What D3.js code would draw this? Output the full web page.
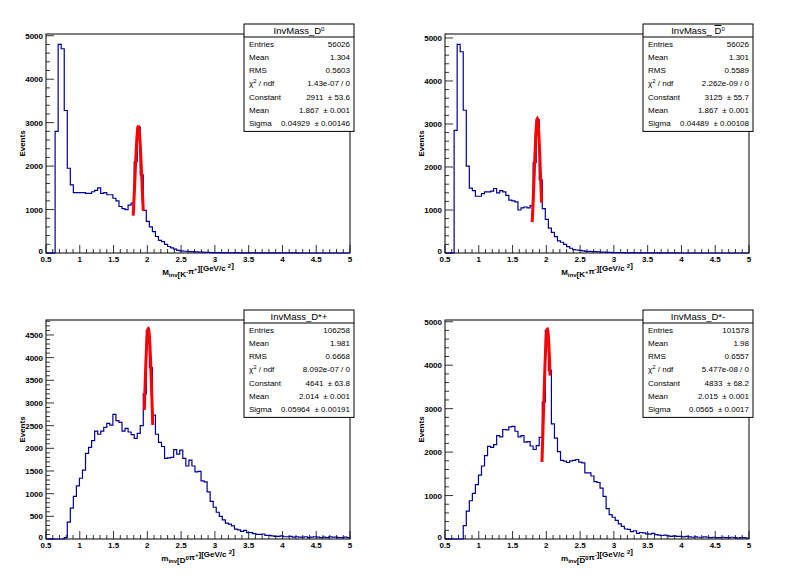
<!DOCTYPE html>
<html lang="en">
<head>
<meta charset="UTF-8" />
<title>InvMass histograms</title>
<script src="https://d3js.org/d3.v7.min.js"></script>
<style>
  body { margin: 0; background: #fff; }
  svg { display: block; font-family: "Liberation Sans", Arial, sans-serif; }
  text { white-space: pre; }
  .tick-label { font-size: 8px; font-weight: bold; }
  .stat { font-size: 8px; }
</style>
</head>
<body>
<svg id="c" width="796" height="574"></svg>
<script>
// 100 bins from 0.5 to 5.0 GeV/c^2
const xMin = 0.5, xMax = 5.0, nBins = 100;

const binsD0 = [0,0,0,2800,4800,4700,3280,1950,1570,1390, 1390,1390,1390,1370,1370,1410,1440,1500,1370,1390,
  1340,1340,1260,1200,1070,1020,1000,1100,1150,2100, 2900,1800,980,730,600,490,380,290,260,200,
  150,120,90,60,50,40,40,30,30,25, 20,20,15,15,10,10,10,10,5,10,
  5,5,10,5,5,5,5,5,5,5, 5,5,5,5,5,5,5,5,5,5,
  5,5,5,0,0,0,0,0,0,0, 0,0,0,0,0,0,0,0,0,0];
const binsD0bar = [0,0,0,2850,4850,4680,3320,2020,1510,1450, 1320,1320,1380,1420,1420,1440,1500,1400,1450,1420,
  1340,1230,1210,1190,1000,1050,1070,1050,1100,2100, 3100,1700,1030,780,580,480,380,280,250,200,
  150,110,80,70,60,50,40,40,30,30, 25,20,20,15,15,10,10,10,10,5,
  5,10,5,5,5,5,5,5,5,5, 5,5,5,5,5,5,5,0,0,0,
  0,0,0,0,0,0,0,0,0,0, 0,0,0,0,0,0,0,0,0,0];
const binsDstarPlus = [0,0,0,0,0,0,30,370,680,940, 1170,1340,1520,1890,2020,2170,2380,2310,2380,2460,
  2550,2510,2750,2610,2570,2380,2440,2360,2300,2220, 2330,2500,3200,4600,3780,2730,2310,2130,2040,1780,
  1790,1800,1970,1870,1960,1780,1610,1740,1610,1480, 1490,1280,1260,1040,830,700,590,500,420,350,
  330,290,220,200,170,190,140,140,120,100, 100,110,80,80,70,60,60,70,50,50,
  60,40,50,40,40,50,30,40,50,40, 30,40,30,50,40,40,30,30,40,30];
const binsDstarMinus = [0,0,0,0,0,0,310,640,880,1050, 1250,1470,1680,1920,2130,2110,2170,2380,2350,2520,
  2510,2580,2590,2480,2350,2380,2230,2240,2140,2060, 2150,2340,3150,4800,3880,2650,2320,2010,1810,1790,
  1760,1800,1810,1830,1770,1750,1520,1520,1450,1320, 1300,1170,980,700,560,500,430,350,290,230,
  220,170,190,130,150,140,120,110,130,100, 90,80,90,70,60,70,60,60,50,60,
  50,40,50,40,40,50,40,30,40,30, 30,40,30,30,40,30,20,30,30,20];

// gaussian fits: [constant, mean, sigma], fit ranges
const fitD0 = [2911, 1.867, 0.04929], rangeD0 = [1.79, 1.94];
const fitD0bar = [3125, 1.867, 0.04489], rangeD0bar = [1.79, 1.93];
const fitDstarPlus = [4641, 2.014, 0.05964], rangeDstarPlus = [1.955, 2.08];
const fitDstarMinus = [4833, 2.015, 0.0565], rangeDstarMinus = [1.935, 2.055];

// stats box rows
const statsD0 = [["Entries","56026"],["Mean","1.304"],["RMS","0.5603"],["chi","1.43e-07 / 0"],["Constant","2911  \u00b1 53.6"],["Mean","1.867  \u00b1 0.001"],["Sigma","0.04929  \u00b1 0.00146"]];
const statsD0bar = [["Entries","56026"],["Mean","1.301"],["RMS","0.5589"],["chi","2.262e-09 / 0"],["Constant","3125  \u00b1 55.7"],["Mean","1.867  \u00b1 0.001"],["Sigma","0.04489  \u00b1 0.00108"]];
const statsDstarPlus = [["Entries","106258"],["Mean","1.981"],["RMS","0.6668"],["chi","8.092e-07 / 0"],["Constant","4641  \u00b1 63.8"],["Mean","2.014  \u00b1 0.001"],["Sigma","0.05964  \u00b1 0.00191"]];
const statsDstarMinus = [["Entries","101578"],["Mean","1.98"],["RMS","0.6557"],["chi","5.477e-08 / 0"],["Constant","4833  \u00b1 68.2"],["Mean","2.015  \u00b1 0.001"],["Sigma","0.0565  \u00b1 0.0017"]];

const xTicks = [0.5,1,1.5,2,2.5,3,3.5,4,4.5,5];

const svg = d3.select("#c");

function drawPanel(p) {
  const g = svg.append("g");
  const x = d3.scaleLinear().domain([xMin, xMax]).range([p.x0, p.x1]);
  const yMaxVal = d3.max(p.bins) * 1.05;
  const y = d3.scaleLinear().domain([0, yMaxVal]).range([p.yb, p.yt]);
  const w = (xMax - xMin) / nBins;

  // frame
  g.append("rect").attr("x", p.x0).attr("y", p.yt).attr("width", p.x1 - p.x0).attr("height", p.yb - p.yt)
    .attr("fill", "none").attr("stroke", "#000").attr("stroke-width", 1);

  // x ticks
  d3.range(0, 46).forEach(i => {
    const v = xMin + i * 0.1, major = i % 5 === 0;
    g.append("line").attr("x1", x(v)).attr("x2", x(v)).attr("y1", p.yb).attr("y2", p.yb - (major ? 8 : 4))
      .attr("stroke", "#000").attr("stroke-width", 0.8);
  });
  xTicks.forEach(v => g.append("text").attr("class", "tick-label").attr("x", x(v)).attr("y", p.yb + 9)
    .attr("text-anchor", "middle").text(v));

  // y ticks
  const minor = p.yStep / 5;
  d3.range(0, Math.floor(yMaxVal / minor) + 1).forEach(i => {
    const v = i * minor, major = i % 5 === 0;
    g.append("line").attr("x1", p.x0).attr("x2", p.x0 + (major ? 8 : 4)).attr("y1", y(v)).attr("y2", y(v))
      .attr("stroke", "#000").attr("stroke-width", 0.8);
    if (major) g.append("text").attr("class", "tick-label").attr("x", p.x0 - 3).attr("y", y(v) + (v === 0 ? 1 : 3))
      .attr("text-anchor", "end").text(v);
  });

  // histogram
  const pts = [[xMin, 0]];
  p.bins.forEach((v, i) => { pts.push([xMin + i * w, v]); pts.push([xMin + (i + 1) * w, v]); });
  g.append("path").attr("d", d3.line().x(d => x(d[0])).y(d => y(d[1]))(pts))
    .attr("fill", "none").attr("stroke", "#000099").attr("stroke-width", 1.2);

  // gaussian fit
  const [c, m, s] = p.fit;
  const fp = d3.range(0, 41).map(k => {
    const xv = p.range[0] + (p.range[1] - p.range[0]) * k / 40;
    return [xv, c * Math.exp(-0.5 * ((xv - m) / s) ** 2)];
  });
  g.append("path").attr("d", d3.line().x(d => x(d[0])).y(d => y(d[1]))(fp))
    .attr("fill", "none").attr("stroke", "#ff0000").attr("stroke-width", 3);

  // axis titles
  g.append("text").attr("transform", `translate(${p.x0 - 21},${(p.yt + p.yb) / 2}) rotate(-90)`)
    .attr("text-anchor", "middle").style("font-size", "8px").style("font-weight", "bold").text("Events");
  const xt = g.append("text").attr("x", (p.x0 + p.x1) / 2).attr("y", p.yb + 22).attr("text-anchor", "middle")
    .style("font-size", "8px").style("font-weight", "bold");
  p.xTitle(xt);

  // stats box
  const bx = p.x1 - 106, bw = 110, by = p.yt - 10, rh = 13.2;
  g.append("rect").attr("x", bx).attr("y", by).attr("width", bw).attr("height", 13 + rh * 7 + 2)
    .attr("fill", "#fff").attr("stroke", "#000").attr("stroke-width", 1);
  g.append("line").attr("x1", bx).attr("x2", bx + bw).attr("y1", by + 13).attr("y2", by + 13)
    .attr("stroke", "#000");
  const tt = g.append("text").attr("x", bx + bw / 2).attr("y", by + 10).attr("text-anchor", "middle")
    .style("font-size", "9.5px");
  p.title(tt);
  p.stats.forEach((r, i) => {
    const yy = by + 13 + rh * (i + 1) - 3.5;
    const lab = g.append("text").attr("class", "stat").attr("x", bx + 5).attr("y", yy);
    if (r[0] === "chi") {
      lab.append("tspan").text("\u03c7");
      lab.append("tspan").attr("dy", -3).style("font-size", "6px").text("2");
      lab.append("tspan").attr("dy", 3).text(" / ndf");
    } else lab.text(r[0]);
    g.append("text").attr("class", "stat").attr("x", bx + bw - 4).attr("y", yy).attr("text-anchor", "end").text(r[1]);
  });
}

function sub(t, s) { t.append("tspan").attr("dy", 2).style("font-size", "6px").text(s); t.append("tspan").attr("dy", -2).text(""); }
function sup(t, s) { t.append("tspan").attr("dy", -3).style("font-size", "6px").text(s); t.append("tspan").attr("dy", 3).text(""); }

drawPanel({ x0: 46, x1: 350, yt: 34, yb: 253, yStep: 1000, bins: binsD0, fit: fitD0, range: rangeD0, stats: statsD0,
  title: t => { t.append("tspan").text("InvMass_D"); sup(t, "0"); },
  xTitle: t => { t.append("tspan").text("M"); sub(t, "inv"); t.append("tspan").text("[K"); sup(t, "-"); t.append("tspan").text("\u03c0"); sup(t, "+"); t.append("tspan").text("][GeV/c "); sup(t, "2"); t.append("tspan").text("]"); } });

drawPanel({ x0: 445, x1: 749, yt: 34, yb: 253, yStep: 1000, bins: binsD0bar, fit: fitD0bar, range: rangeD0bar, stats: statsD0bar,
  title: t => { t.append("tspan").text("InvMass_ "); t.append("tspan").style("text-decoration", "overline").text("D"); sup(t, "0"); },
  xTitle: t => { t.append("tspan").text("M"); sub(t, "inv"); t.append("tspan").text("[K"); sup(t, "+"); t.append("tspan").text("\u03c0"); sup(t, "-"); t.append("tspan").text("][GeV/c "); sup(t, "2"); t.append("tspan").text("]"); } });

drawPanel({ x0: 46, x1: 350, yt: 320, yb: 539, yStep: 500, bins: binsDstarPlus, fit: fitDstarPlus, range: rangeDstarPlus, stats: statsDstarPlus,
  title: t => { t.text("InvMass_D*+"); },
  xTitle: t => { t.append("tspan").text("m"); sub(t, "inv"); t.append("tspan").text("[D"); sup(t, "0"); t.append("tspan").text("\u03c0"); sup(t, "+"); t.append("tspan").text("][GeV/c "); sup(t, "2"); t.append("tspan").text("]"); } });

drawPanel({ x0: 445, x1: 749, yt: 320, yb: 539, yStep: 1000, bins: binsDstarMinus, fit: fitDstarMinus, range: rangeDstarMinus, stats: statsDstarMinus,
  title: t => { t.text("InvMass_D*-"); },
  xTitle: t => { t.append("tspan").text("m"); sub(t, "inv"); t.append("tspan").text("["); t.append("tspan").style("text-decoration", "overline").text("D"); sup(t, "0"); t.append("tspan").text("\u03c0"); sup(t, "-"); t.append("tspan").text("][GeV/c "); sup(t, "2"); t.append("tspan").text("]"); } });
</script>
</body>
</html>
